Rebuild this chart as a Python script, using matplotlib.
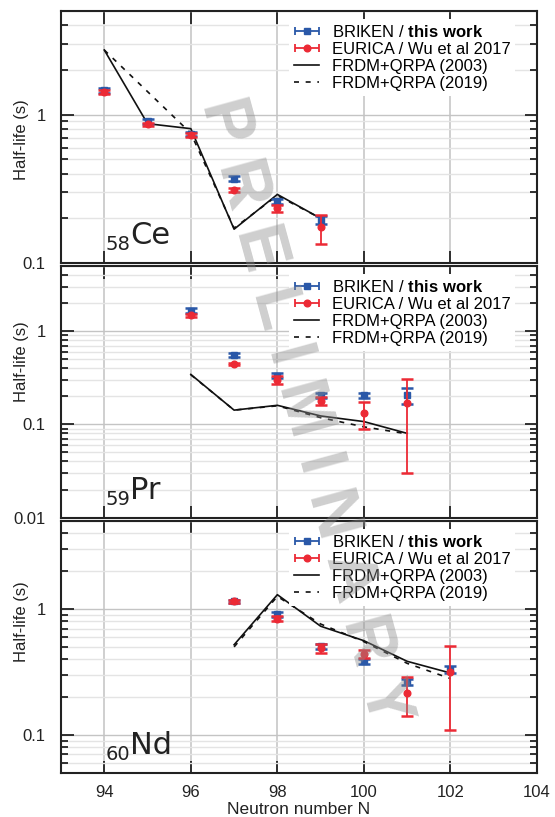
import numpy as np
import matplotlib
matplotlib.use('Agg')
import matplotlib.pyplot as plt
from matplotlib.ticker import LogLocator, FuncFormatter, NullFormatter, NullLocator, FixedLocator
from matplotlib.legend_handler import HandlerErrorbar
from matplotlib.container import ErrorbarContainer

plt.rcParams['font.family'] = ['Liberation Sans', 'DejaVu Sans']
plt.rcParams['mathtext.fontset'] = 'custom'
plt.rcParams['mathtext.rm'] = 'Liberation Sans'
plt.rcParams['mathtext.bf'] = 'Liberation Sans:bold'

blue = '#2a58a8'
red = '#ec2a35'

# 58Ce
ce_n = [94, 95, 96, 97, 98, 99]
ce_briken = [1.46, 0.90, 0.74, 0.37, 0.26, 0.195]
ce_briken_err = [0.06, 0.03, 0.02, 0.015, 0.012, 0.012]
ce_eurica = [1.42, 0.86, 0.73, 0.31, 0.234, 0.176]
ce_eurica_lo = [0.04, 0.02, 0.02, 0.01, 0.012, 0.041]
ce_eurica_hi = [0.04, 0.02, 0.02, 0.01, 0.012, 0.034]
ce_frdm03_n = [94, 95, 96, 97, 98, 99]
ce_frdm03 = [2.73, 0.87, 0.805, 0.169, 0.29, 0.20]
ce_frdm19_n = [94, 96, 97, 98, 99]
ce_frdm19 = [2.73, 0.75, 0.172, 0.285, 0.20]

# 59Pr
pr_n = [96, 97, 98, 99, 100, 101]
pr_briken = [1.65, 0.557, 0.332, 0.206, 0.206, 0.207]
pr_briken_lo = [0.1, 0.03, 0.02, 0.012, 0.012, 0.042]
pr_briken_hi = [0.1, 0.03, 0.02, 0.012, 0.012, 0.040]
pr_eurica = [1.48, 0.443, 0.30, 0.179, 0.133, 0.168]
pr_eurica_lo = [0.06, 0.015, 0.03, 0.016, 0.043, 0.138]
pr_eurica_hi = [0.06, 0.015, 0.03, 0.016, 0.042, 0.138]
pr_frdm_n = [96, 97, 98, 99, 100, 101]
pr_frdm03 = [0.343, 0.142, 0.16, 0.123, 0.107, 0.080]
pr_frdm19 = [0.34, 0.142, 0.158, 0.118, 0.094, 0.079]

# 60Nd
nd_n = [97, 98, 99, 100, 101, 102]
nd_briken = [1.15, 0.91, 0.505, 0.384, 0.263, 0.33]
nd_briken_err = [0.04, 0.04, 0.025, 0.015, 0.015, 0.02]
nd_eurica = [1.15, 0.84, 0.49, 0.44, 0.216, 0.314]
nd_eurica_lo = [0.04, 0.04, 0.04, 0.035, 0.076, 0.204]
nd_eurica_hi = [0.04, 0.04, 0.04, 0.035, 0.074, 0.196]
nd_frdm_n = [97, 98, 99, 100, 101, 102]
nd_frdm03 = [0.52, 1.30, 0.73, 0.56, 0.384, 0.31]
nd_frdm19 = [0.50, 1.26, 0.76, 0.55, 0.37, 0.28]

x_ticks = [94, 96, 98, 100, 102, 104]
labels = ['BRIKEN / $\\mathbf{this\\ work}$', 'EURICA / Wu et al 2017',
          'FRDM+QRPA (2003)', 'FRDM+QRPA (2019)']

panels = [
    dict(n=ce_n, b=ce_briken, blo=ce_briken_err, bhi=ce_briken_err,
         e=ce_eurica, elo=ce_eurica_lo, ehi=ce_eurica_hi,
         n03=ce_frdm03_n, f03=ce_frdm03, n19=ce_frdm19_n, f19=ce_frdm19,
         z='58', el='Ce', ylim=(0.1, 5), rect=[0.1099, 0.6781, 0.8577, 0.3084], ylab_y=0.49),
    dict(n=pr_n, b=pr_briken, blo=pr_briken_lo, bhi=pr_briken_hi,
         e=pr_eurica, elo=pr_eurica_lo, ehi=pr_eurica_hi,
         n03=pr_frdm_n, f03=pr_frdm03, n19=pr_frdm_n, f19=pr_frdm19,
         z='59', el='Pr', ylim=(0.01, 5), rect=[0.1099, 0.3665, 0.8577, 0.3080], ylab_y=0.62),
    dict(n=nd_n, b=nd_briken, blo=nd_briken_err, bhi=nd_briken_err,
         e=nd_eurica, elo=nd_eurica_lo, ehi=nd_eurica_hi,
         n03=nd_frdm_n, f03=nd_frdm03, n19=nd_frdm_n, f19=nd_frdm19,
         z='60', el='Nd', ylim=(0.05, 5), rect=[0.1099, 0.0542, 0.8577, 0.3080], ylab_y=0.60),
]

fig = plt.figure(figsize=(5.55, 8.17), dpi=100)

for i, p in enumerate(panels):
    ax = fig.add_axes(p['rect'])
    ax.set_yscale('log')
    ax.set_xlim(93, 104)
    ax.set_ylim(*p['ylim'])

    # grid
    ax.set_axisbelow(True)
    ax.grid(True, axis='x', which='major', color='#cccccc', lw=1.3)
    ax.grid(True, axis='y', which='major', color='#c4c4c4', lw=1.0)
    ax.grid(True, axis='y', which='minor', color='#e4e4e4', lw=1.0)

    # theory
    l03, = ax.plot(p['n03'], p['f03'], color='#111111', lw=1.2, zorder=3)
    l19, = ax.plot(p['n19'], p['f19'], color='#111111', lw=1.2,
                   linestyle=(0, (3, 4)), zorder=3)

    # data
    ax.errorbar(p['n'], p['b'], yerr=[p['blo'], p['bhi']], fmt='s', color=blue,
                ms=4.8, capsize=4, elinewidth=1.3, capthick=1.8, zorder=4)
    ax.errorbar(p['n'], p['e'], yerr=[p['elo'], p['ehi']], fmt='o', color=red,
                ms=4.8, capsize=4, elinewidth=1.3, capthick=1.8, zorder=5)

    # legend proxies with horizontal bars
    hb = ax.errorbar([np.nan], [np.nan], xerr=[1], fmt='s', color=blue, ms=4.8,
                     capsize=3, elinewidth=1.3, capthick=1.3)
    hr = ax.errorbar([np.nan], [np.nan], xerr=[1], fmt='o', color=red, ms=4.8,
                     capsize=3, elinewidth=1.3, capthick=1.3)
    ax.legend([hb, hr, l03, l19], labels, loc='upper left', bbox_to_anchor=(0.479, 0.968),
              fontsize=12, frameon=True, fancybox=False, edgecolor='none',
              facecolor='white', framealpha=1, borderpad=0.3, labelspacing=0.12,
              handlelength=1.5, handletextpad=0.75, borderaxespad=0,
              handler_map={ErrorbarContainer: HandlerErrorbar(xerr_size=0.72)})

    # ticks
    ax.xaxis.set_major_locator(FixedLocator(x_ticks))
    ax.xaxis.set_minor_locator(NullLocator())
    ax.yaxis.set_major_locator(LogLocator(base=10))
    ax.yaxis.set_minor_locator(LogLocator(base=10, subs=np.arange(2, 10)))
    ax.yaxis.set_major_formatter(FuncFormatter(lambda v, pos: f'{v:g}'))
    ax.yaxis.set_minor_formatter(NullFormatter())
    ax.tick_params(which='both', direction='in', top=True, right=True,
                   width=1.3, color='#222222', labelsize=12, labelcolor='#222222')
    ax.tick_params(which='major', length=9)
    ax.tick_params(which='minor', length=5)
    ax.tick_params(axis='y', pad=11)
    ax.tick_params(axis='x', pad=9)
    for s in ax.spines.values():
        s.set_linewidth(1.5)
        s.set_color('#222222')

    if i < 2:
        ax.tick_params(axis='x', labelbottom=False)
    else:
        ax.set_xlabel('Neutron number N', fontsize=12.5, color='#222222', labelpad=1)

    ax.set_ylabel('Half-life (s)', fontsize=12, color='#222222')
    ax.yaxis.set_label_coords(-0.068, p['ylab_y'])

    # element label
    ax.text(0.0935, 0.05, p['z'], transform=ax.transAxes, fontsize=14,
            family='DejaVu Sans', color='#222222', va='baseline', ha='left')
    ax.text(0.146, 0.075, p['el'], transform=ax.transAxes, fontsize=22,
            family='DejaVu Sans', color='#222222', va='baseline', ha='left')

# watermark
fig.text(0.55, 0.496, 'P R E L I M I N A R Y', rotation=-74.7, fontsize=49,
         fontweight='bold', family='Liberation Sans', color='0.55', alpha=0.42,
         ha='center', va='center')

fig.savefig('out.png', dpi=100)
